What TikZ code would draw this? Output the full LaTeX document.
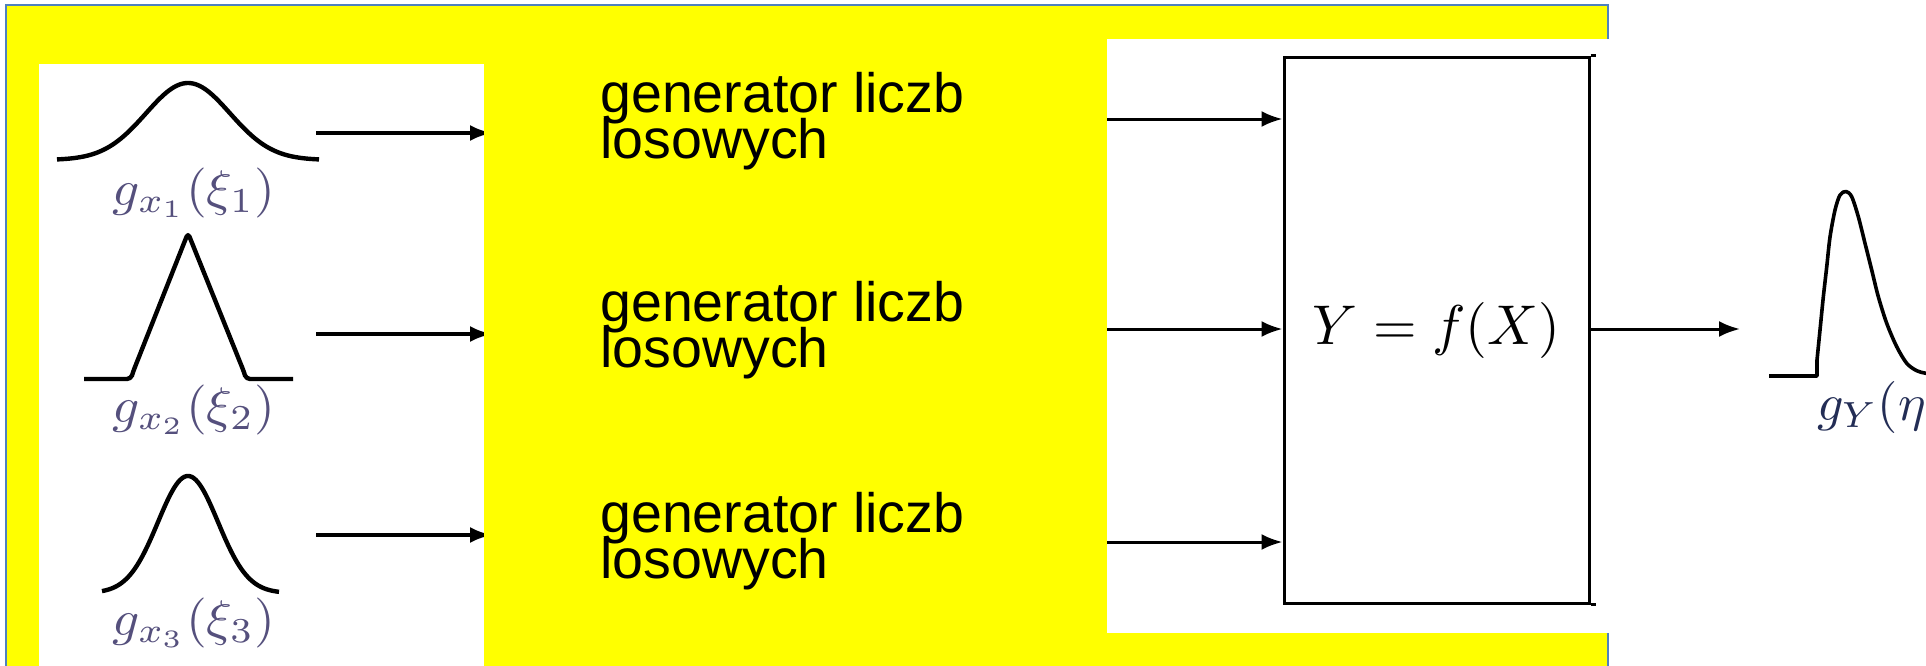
\documentclass[tikz,border=0pt]{standalone}
\usepackage{amsmath}
\usepackage{fontspec}
\newfontfamily\sansarial{Liberation Sans}
\usetikzlibrary{arrows.meta}

\definecolor{framefill}{RGB}{255,255,0}
\definecolor{frameline}{RGB}{79,129,189}
\definecolor{lblcol}{RGB}{85,80,125}
\definecolor{outlbl}{RGB}{35,45,85}

\newcommand{\genfont}{\sansarial\fontsize{27.75}{23}\selectfont\lineskiplimit-30pt\relax}

\tikzset{
  flow/.style={line width=1.5pt, -{Latex[length=10.5pt,width=8pt]}},
  inflow/.style={line width=2pt, -{Latex[length=11pt,width=8pt]}},
  pdfcurve/.style={line width=2.2pt, line join=round},
  genlabel/.style={anchor=base west, inner sep=0pt, align=left, font=\genfont},
  pdflabel/.style={anchor=base, inner sep=0pt, text=lblcol,
    scale=2.5, xscale=1.07},
  modelbox/.style={draw, line width=1.5pt, inner sep=0pt,
    minimum width=152.5pt, minimum height=273pt}
}

\begin{document}
\begin{tikzpicture}[x=0.5pt,y=-0.5pt]
\useasboundingbox (0,0) rectangle (1926,665);
\fill[white] (0,0) rectangle (1926,665);

% yellow frame and the two white panels laid on it
\draw[fill=framefill, draw=frameline, line width=1.2pt] (6,5) rectangle (1608,720);
\fill[white] (39,64) rectangle (484,720);
\fill[white] (1107,39) rectangle (1610,633);

% input densities
\draw[pdfcurve] plot[domain=57:319, samples=120]
  (\x, {160 - 77*exp(-0.5*((\x-188)/42)^2)});
\draw[pdfcurve, rounded corners=2pt] (84,379) -- (131,379) -- (133,372)
  -- (188,233) -- (244,372) -- (246,379) -- (293,379);
\draw[pdfcurve] plot[domain=102:279, samples=120]
  (\x, {593 - 117*exp(-0.5*((\x-188)/30)^2)});

\node[pdflabel] (l1) at (194,205) {$g_{x_1}(\xi_1)$};
\node[pdflabel] (l2) at (194,422) {$g_{x_2}(\xi_2)$};
\node[pdflabel] (l3) at (194,635) {$g_{x_3}(\xi_3)$};

% arrows from the densities towards the generators
\coordinate (p1) at (316,133);
\coordinate (p2) at (316,334);
\coordinate (p3) at (316,535);
\coordinate (g1) at (492,133);
\coordinate (g2) at (492,334);
\coordinate (g3) at (492,535);
\draw[inflow] (p1) -- (g1);
\draw[inflow] (p2) -- (g2);
\draw[inflow] (p3) -- (g3);

% model block
\node[modelbox] (box) at (1436.5,330) {};
\node[inner sep=0pt, scale=2.8] (model) at (box.center) {$Y = f(X)$};
\draw[line width=1.5pt] (box.north east) -- ++(5,0);
\draw[line width=1.5pt] (box.south east) -- ++(5,0);

\coordinate (s1) at (1107,119);
\coordinate (s2) at (1107,329);
\coordinate (s3) at (1107,542);
\draw[flow] (s1) -- (box.west |- s1);
\draw[flow] (s2) -- (box.west |- s2);
\draw[flow] (s3) -- (box.west |- s3);

% output density
\coordinate (out) at (1740,329);
\draw[flow] (box.east |- out) -- (out);
\draw[line width=1.8pt, line join=round] (1769,376) -- (1817,376) -- (1817,360)
  plot[smooth, tension=0.5] coordinates {(1817,360) (1820,330) (1823.3,297)
  (1826.7,267) (1830,237) (1835,210) (1840,195) (1846,191.5) (1851.7,196.7)
  (1858.3,216.7) (1865,243.3) (1871.7,270) (1878.3,296.7) (1886.7,323.3)
  (1896.7,346.7) (1906.7,363.3) (1916.7,370.7) (1926,373.3) (1940,375)};
\node[anchor=base west, inner sep=0pt, text=outlbl, scale=2.6] (ly) at (1816,420) {$g_Y(\eta)$};

% generator blocks
\fill[framefill] (484,8) rectangle (1107,720);
\node[genlabel] (t1) at (600,158) {generator liczb\\losowych};
\node[genlabel] (t2) at (600,367) {generator liczb\\losowych};
\node[genlabel] (t3) at (600,578) {generator liczb\\losowych};
\end{tikzpicture}
\end{document}
